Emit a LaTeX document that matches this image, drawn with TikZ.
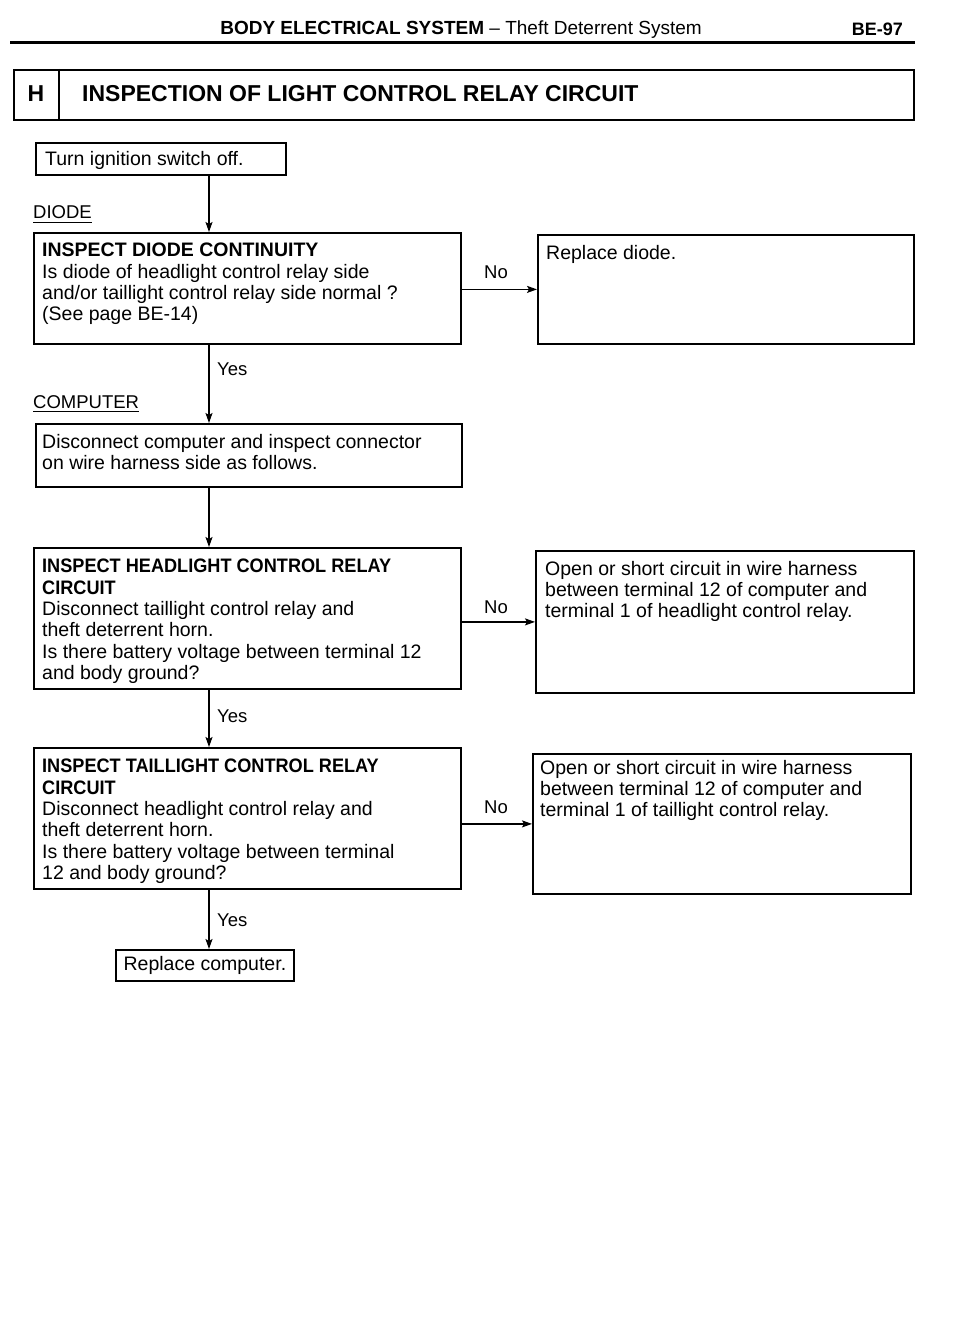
\documentclass[tikz,border=0pt]{standalone}
\usepackage{fontspec}
\usepackage{graphicx}
\setmainfont{Liberation Sans}
\usetikzlibrary{arrows.meta,calc}
\newcommand{\cbf}[1]{\scalebox{0.93}[1]{\bfseries #1}}
\begin{document}
\begin{tikzpicture}[x=1pt,y=-1pt,
  box/.style={draw, line width=1.8pt, rectangle, inner sep=0pt, anchor=north west},
  txt/.style={anchor=north west, inner sep=0pt, align=left, font=\fontsize{19.5}{21.3}\selectfont},
  lbl/.style={inner sep=0pt, font=\fontsize{18.5}{21}\selectfont},
  arr/.style={line width=1.4pt, -{Stealth[length=10pt,width=7pt,inset=2pt]}},
  conn/.style={line width=1.4pt}]
\fill[white] (0,0) rectangle (960,1337);
\useasboundingbox (0,0) rectangle (960,1337);

% header
\node[inner sep=0pt, anchor=base, font=\fontsize{19}{21}\selectfont] (hdr) at (461,35)
  {\textbf{BODY ELECTRICAL SYSTEM} -- Theft Deterrent System};
\node[inner sep=0pt, anchor=base east, font=\fontsize{18}{21}\selectfont\bfseries] (pg) at (903,36) {BE-97};
\coordinate (rl) at (10,43);
\coordinate (rr) at (915,43);
\draw[line width=3pt] (rl) -- (rr);

% title box
\node[box, minimum width=900, minimum height=50] (tbox) at (13,69) {};
\coordinate (dv) at (59,69);
\draw[line width=1.8pt] (dv) -- (dv |- tbox.south);
\node[inner sep=0pt, font=\fontsize{23}{25}\selectfont\bfseries] (hlet) at (36,94) {H};
\node[inner sep=0pt, anchor=west, font=\fontsize{23}{25}\selectfont\bfseries] (ttl) at (82,94)
  {INSPECTION OF LIGHT CONTROL RELAY CIRCUIT};

% main column x
\coordinate (xl) at (209,0);

% turn ignition
\node[box, minimum width=250, minimum height=32] (turn) at (35,142) {};
\node[txt] (turnt) at (45,151) {Turn ignition switch off.};

% DIODE label
\node[lbl, anchor=base west] (diol) at (33,219) {DIODE};
\draw[line width=1.3pt] ([yshift=-3pt]diol.south west) -- ([yshift=-3pt]diol.south east);

% diode box
\node[box, minimum width=427, minimum height=111] (diode) at (33,232) {};
\node[txt] (diodet) at (42,243) {\textbf{INSPECT DIODE CONTINUITY}\\
Is diode of headlight control relay side\\
and/or taillight control relay side normal ?\\
(See page BE-14)};

% replace diode
\node[box, minimum width=376, minimum height=109] (repd) at (537,234) {};
\node[txt] (repdt) at (546,245) {Replace diode.};

% COMPUTER label
\node[lbl, anchor=base west] (compl) at (33,408) {COMPUTER};
\draw[line width=1.3pt] ([yshift=-3pt]compl.south west) -- ([yshift=-3pt]compl.south east);

% computer box
\node[box, minimum width=426, minimum height=63] (comp) at (35,423) {};
\node[txt] (compt) at (42,434) {Disconnect computer and inspect connector\\
on wire harness side as follows.};

% headlight box
\node[box, minimum width=427, minimum height=141] (hl) at (33,547) {};
\node[txt] (hlt) at (42,559) {\cbf{INSPECT HEADLIGHT CONTROL RELAY}\\
\cbf{CIRCUIT}\\
Disconnect taillight control relay and\\
theft deterrent horn.\\
Is there battery voltage between terminal 12\\
and body ground?};

% right box 2
\node[box, minimum width=378, minimum height=142] (rb2) at (535,550) {};
\node[txt] (rb2t) at (545,561) {Open or short circuit in wire harness\\
between terminal 12 of computer and\\
terminal 1 of headlight control relay.};

% taillight box
\node[box, minimum width=427, minimum height=141] (tl) at (33,747) {};
\node[txt] (tlt) at (42,759) {\cbf{INSPECT TAILLIGHT CONTROL RELAY}\\
\cbf{CIRCUIT}\\
Disconnect headlight control relay and\\
theft deterrent horn.\\
Is there battery voltage between terminal\\
12 and body ground?};

% right box 3
\node[box, minimum width=378, minimum height=140] (rb3) at (532,753) {};
\node[txt] (rb3t) at (540,760) {Open or short circuit in wire harness\\
between terminal 12 of computer and\\
terminal 1 of taillight control relay.};

% replace computer
\node[box, minimum width=178, minimum height=31] (repc) at (115,949) {};
\node[inner sep=0pt, font=\fontsize{19.5}{21}\selectfont] (repct) at (repc.center) {Replace computer.};

% vertical connectors
\draw[arr] (turn.south -| xl) -- (diode.north -| xl);
\draw[arr] (diode.south -| xl) -- (comp.north -| xl);
\draw[arr] (comp.south -| xl) -- (hl.north -| xl);
\draw[arr] (hl.south -| xl) -- (tl.north -| xl);
\draw[arr] (tl.south -| xl) -- (repc.north -| xl);

% horizontal connectors
\draw[arr] (repd.west -| diode.east) -- (repd.west);
\draw[arr] (rb2.west -| hl.east) -- (rb2.west);
\draw[arr] (rb3.west -| tl.east) -- (rb3.west);

% labels
\node[lbl, anchor=west] (y1) at (217,369) {Yes};
\node[lbl, anchor=west] (y2) at (217,716) {Yes};
\node[lbl, anchor=west] (y3) at (217,920) {Yes};
\node[lbl] (n1) at (496,272) {No};
\node[lbl] (n2) at (496,607) {No};
\node[lbl] (n3) at (496,807) {No};
\end{tikzpicture}
\end{document}
